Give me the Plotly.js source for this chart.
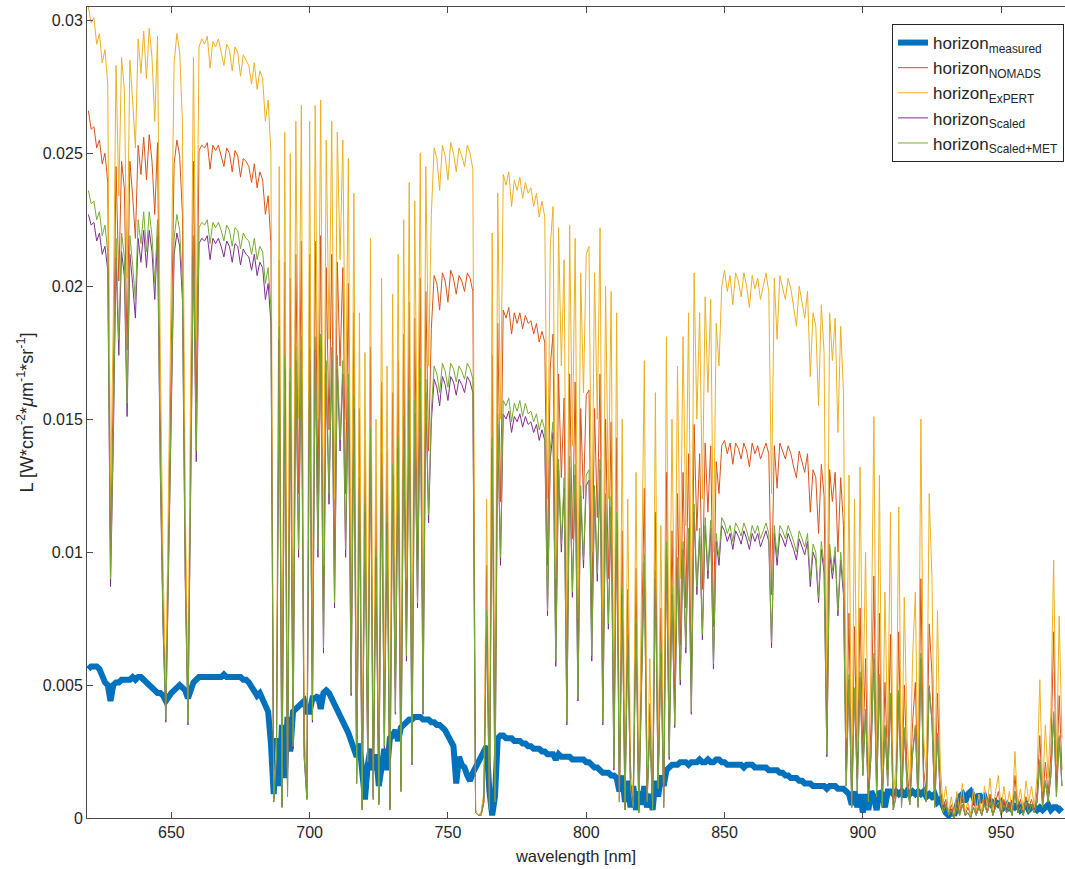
<!DOCTYPE html>
<html>
<head>
<meta charset="utf-8">
<script src="https://cdn.plot.ly/plotly-3.0.1.min.js"></script>
<style>
  html, body { margin: 0; padding: 0; background: #ffffff; }
  #chart { width: 1065px; height: 869px; }
</style>
</head>
<body>
<div id="chart"></div>
<script>
// wavelength [nm]
const wavelength = [
620,621,622,623,624,625,626,627,628,629,
630,631,632,633,634,635,636,637,638,639,
640,641,642,643,644,645,646,647,648,649,
650,651,652,653,654,655,656,657,658,659,
660,661,662,663,664,665,666,667,668,669,
670,671,672,673,674,675,676,677,678,679,
680,681,682,683,684,685,686,687,688,689,
690,691,692,693,694,695,696,697,698,699,
700,701,702,703,704,705,706,707,708,709,
710,711,712,713,714,715,716,717,718,719,
720,721,722,723,724,725,726,727,728,729,
730,731,732,733,734,735,736,737,738,739,
740,741,742,743,744,745,746,747,748,749,
750,751,752,753,754,755,756,757,758,759,
760,761,762,763,764,765,766,767,768,769,
770,771,772,773,774,775,776,777,778,779,
780,781,782,783,784,785,786,787,788,789,
790,791,792,793,794,795,796,797,798,799,
800,801,802,803,804,805,806,807,808,809,
810,811,812,813,814,815,816,817,818,819,
820,821,822,823,824,825,826,827,828,829,
830,831,832,833,834,835,836,837,838,839,
840,841,842,843,844,845,846,847,848,849,
850,851,852,853,854,855,856,857,858,859,
860,861,862,863,864,865,866,867,868,869,
870,871,872,873,874,875,876,877,878,879,
880,881,882,883,884,885,886,887,888,889,
890,891,892,893,894,895,896,897,898,899,
900,901,902,903,904,905,906,907,908,909,
910,911,912,913,914,915,916,917,918,919,
920,921,922,923,924,925,926,927,928,929,
930,931,932,933,934,935,936,937,938,939,
940,941,942,943,944,945,946,947,948,949,
950,951,952,953,954,955,956,957,958,959,
960,961,962,963,964,965,966,967,968,969,
970,971,972];

// horizon measured
const horizonMeasured = [
.0056,.0057,.0057,.0057,.0056,.0053,.0051,.0050,.0044,.0050,
.0051,.0051,.0052,.0052,.0052,.0052,.0053,.0052,.0053,.0053,
.0052,.0051,.0050,.0049,.0048,.0047,.0047,.0046,.0044,.0046,
.0047,.0048,.0049,.0050,.0049,.0048,.0045,.0049,.0051,.0052,
.0053,.0053,.0053,.0053,.0053,.0053,.0053,.0053,.0053,.0054,
.0053,.0053,.0053,.0053,.0053,.0053,.0052,.0052,.0051,.0049,
.0047,.0046,.0047,.0045,.0042,.0040,.0028,.0009,.0030,.0012,
.0035,.0015,.0038,.0025,.0040,.0041,.0042,.0043,.0044,.0040,
.0040,.0045,.0045,.0046,.0041,.0047,.0048,.0047,.0045,.0043,
.0041,.0039,.0037,.0034,.0032,.0029,.0026,.0023,.0028,.0015,
.0007,.0020,.0026,.0018,.0024,.0012,.0020,.0026,.0018,.0030,
.0031,.0033,.0029,.0034,.0035,.0036,.0037,.0037,.0038,.0038,
.0038,.0037,.0037,.0037,.0036,.0036,.0035,.0035,.0034,.0033,
.0031,.0029,.0027,.0013,.0023,.0020,.0019,.0016,.0014,.0017,
.0019,.0022,.0024,.0026,.0027,.0010,.0001,.0008,.0030,.0031,
.0031,.0030,.0030,.0030,.0029,.0029,.0029,.0028,.0028,.0027,
.0027,.0026,.0026,.0026,.0025,.0025,.0024,.0024,.0024,.0022,
.0024,.0023,.0023,.0023,.0023,.0022,.0022,.0022,.0022,.0022,
.0021,.0021,.0020,.0019,.0019,.0018,.0017,.0017,.0017,.0016,
.0016,.0015,.0010,.0016,.0006,.0014,.0004,.0012,.0003,.0010,
.0005,.0012,.0004,.0009,.0003,.0014,.0008,.0016,.0012,.0018,
.0019,.0020,.0020,.0020,.0021,.0021,.0021,.0020,.0021,.0021,
.0021,.0022,.0021,.0021,.0022,.0021,.0021,.0022,.0022,.0021,
.0021,.0020,.0020,.0020,.0020,.0020,.0020,.0019,.0020,.0020,
.0020,.0019,.0019,.0019,.0019,.0019,.0018,.0018,.0018,.0018,
.0017,.0017,.0016,.0016,.0015,.0015,.0015,.0014,.0014,.0013,
.0013,.0013,.0012,.0012,.0012,.0012,.0012,.0011,.0012,.0012,
.0012,.0011,.0011,.0011,.0010,.0009,.0005,.0010,.0004,.0009,
.0002,.0009,.0003,.0010,.0008,.0003,.0010,.0009,.0004,.0010,
.0010,.0009,.0010,.0009,.0010,.0008,.0010,.0009,.0010,.0009,
.0010,.0009,.0010,.0008,.0009,.0008,.0009,.0006,.0007,.0004,
.0002,.0001,.0003,.0001,.0004,.0008,.0009,.0006,.0009,.0010,
.0008,.0005,.0009,.0007,.0008,.0005,.0007,.0004,.0006,.0005,
.0006,.0004,.0005,.0003,.0005,.0004,.0005,.0003,.0004,.0005,
.0003,.0004,.0004,.0003,.0004,.0003,.0004,.0005,.0003,.0004,
.0004,.0003,.0004];

// horizon NOMADS
const horizonNOMADS = [
.0266,.0259,.0260,.0252,.0255,.0246,.0250,.0239,.0101,.0163,
.0245,.0202,.0247,.0237,.0176,.0247,.0234,.0218,.0253,.0242,
.0256,.0240,.0257,.0247,.0227,.0254,.0151,.0082,.0042,.0105,
.0173,.0246,.0255,.0249,.0227,.0105,.0041,.0151,.0247,.0156,
.0251,.0253,.0252,.0254,.0244,.0253,.0251,.0253,.0249,.0245,
.0252,.0250,.0243,.0251,.0249,.0241,.0248,.0247,.0245,.0239,
.0246,.0237,.0243,.0240,.0227,.0234,.0216,.0007,.0026,.0210,
.0005,.0209,.0010,.0203,.0032,.0212,.0122,.0217,.0028,.0008,
.0212,.0045,.0217,.0122,.0219,.0077,.0207,.0146,.0212,.0097,
.0209,.0170,.0207,.0122,.0201,.0057,.0190,.0016,.0154,.0004,
.0142,.0024,.0177,.0008,.0122,.0006,.0164,.0032,.0138,.0004,
.0160,.0049,.0172,.0012,.0182,.0073,.0194,.0024,.0188,.0097,
.0203,.0049,.0198,.0138,.0184,.0204,.0201,.0191,.0205,.0202,
.0194,.0206,.0203,.0197,.0204,.0202,.0198,.0205,.0203,.0198,
.0002,.0001,.0002,.0008,.0095,.0004,.0174,.0008,.0186,.0119,
.0191,.0188,.0192,.0182,.0190,.0186,.0190,.0184,.0189,.0186,
.0187,.0182,.0186,.0179,.0183,.0179,.0095,.0170,.0182,.0071,
.0167,.0128,.0158,.0045,.0167,.0105,.0164,.0056,.0154,.0120,
.0159,.0161,.0075,.0154,.0113,.0167,.0045,.0150,.0090,.0149,
.0023,.0143,.0007,.0108,.0004,.0086,.0014,.0006,.0094,.0002,
.0065,.0124,.0007,.0043,.0004,.0115,.0014,.0079,.0006,.0130,
.0029,.0108,.0043,.0122,.0065,.0130,.0079,.0137,.0050,.0148,
.0108,.0137,.0086,.0141,.0115,.0140,.0072,.0134,.0122,.0140,
.0142,.0137,.0141,.0133,.0141,.0139,.0135,.0141,.0138,.0132,
.0141,.0137,.0140,.0135,.0138,.0141,.0137,.0084,.0140,.0124,
.0141,.0138,.0135,.0140,.0137,.0132,.0128,.0138,.0134,.0130,
.0137,.0115,.0131,.0128,.0107,.0133,.0121,.0030,.0131,.0119,
.0130,.0100,.0128,.0110,.0018,.0077,.0006,.0072,.0015,.0079,
.0024,.0060,.0009,.0036,.0091,.0012,.0077,.0006,.0051,.0018,
.0069,.0005,.0012,.0070,.0006,.0050,.0018,.0007,.0036,.0051,
.0006,.0090,.0018,.0009,.0073,.0054,.0006,.0047,.0012,.0003,
.0007,.0001,.0005,.0001,.0006,.0002,.0008,.0001,.0004,.0001,
.0007,.0002,.0005,.0001,.0007,.0002,.0009,.0001,.0006,.0010,
.0002,.0007,.0002,.0006,.0001,.0016,.0003,.0007,.0002,.0008,
.0004,.0007,.0002,.0010,.0031,.0006,.0021,.0009,.0024,.0070,
.0012,.0046,.0018];

// horizon ExPERT
const horizonExPERT = [
.0305,.0299,.0301,.0291,.0295,.0284,.0289,.0276,.0117,.0188,
.0283,.0234,.0286,.0274,.0203,.0285,.0270,.0252,.0293,.0280,
.0296,.0278,.0297,.0286,.0262,.0294,.0175,.0095,.0048,.0121,
.0200,.0284,.0295,.0288,.0262,.0121,.0047,.0175,.0286,.0180,
.0290,.0293,.0291,.0294,.0282,.0292,.0290,.0293,.0288,.0283,
.0291,.0289,.0281,.0290,.0288,.0279,.0287,.0285,.0283,.0276,
.0284,.0274,.0281,.0278,.0262,.0270,.0250,.0008,.0030,.0245,
.0006,.0258,.0012,.0250,.0040,.0262,.0150,.0268,.0035,.0010,
.0262,.0055,.0268,.0150,.0270,.0095,.0255,.0180,.0262,.0120,
.0258,.0210,.0255,.0150,.0248,.0070,.0235,.0020,.0190,.0005,
.0175,.0030,.0218,.0010,.0150,.0008,.0203,.0040,.0170,.0005,
.0197,.0060,.0212,.0015,.0225,.0090,.0239,.0030,.0232,.0120,
.0250,.0060,.0245,.0170,.0227,.0252,.0248,.0236,.0253,.0249,
.0240,.0254,.0250,.0243,.0252,.0249,.0245,.0253,.0250,.0244,
.0003,.0001,.0002,.0010,.0120,.0005,.0220,.0010,.0235,.0150,
.0242,.0238,.0243,.0230,.0240,.0236,.0241,.0233,.0239,.0235,
.0237,.0230,.0235,.0226,.0232,.0226,.0120,.0215,.0230,.0090,
.0222,.0170,.0210,.0060,.0223,.0140,.0218,.0075,.0205,.0160,
.0212,.0215,.0100,.0205,.0150,.0222,.0060,.0200,.0120,.0198,
.0030,.0190,.0010,.0150,.0005,.0120,.0020,.0008,.0130,.0003,
.0090,.0172,.0010,.0060,.0005,.0160,.0020,.0110,.0008,.0181,
.0040,.0150,.0060,.0170,.0090,.0181,.0110,.0190,.0070,.0205,
.0150,.0190,.0120,.0196,.0160,.0195,.0100,.0186,.0170,.0200,
.0206,.0198,.0204,.0193,.0205,.0202,.0196,.0205,.0200,.0192,
.0204,.0199,.0203,.0195,.0200,.0205,.0198,.0122,.0203,.0180,
.0204,.0200,.0195,.0203,.0199,.0192,.0185,.0200,.0194,.0188,
.0198,.0166,.0190,.0185,.0155,.0193,.0175,.0044,.0190,.0172,
.0188,.0145,.0185,.0160,.0030,.0129,.0010,.0120,.0025,.0132,
.0040,.0100,.0015,.0060,.0151,.0020,.0129,.0010,.0085,.0030,
.0115,.0008,.0020,.0117,.0010,.0083,.0030,.0012,.0060,.0085,
.0010,.0150,.0030,.0015,.0122,.0090,.0010,.0078,.0020,.0005,
.0012,.0002,.0008,.0001,.0010,.0003,.0013,.0002,.0006,.0001,
.0011,.0003,.0009,.0002,.0012,.0004,.0015,.0002,.0010,.0016,
.0003,.0012,.0004,.0010,.0002,.0025,.0005,.0011,.0003,.0014,
.0006,.0012,.0004,.0016,.0052,.0010,.0035,.0015,.0040,.0097,
.0020,.0076,.0030];

// horizon Scaled
const horizonScaled = [
.0227,.0223,.0224,.0217,.0220,.0212,.0215,.0206,.0087,.0140,
.0211,.0174,.0213,.0204,.0151,.0212,.0201,.0188,.0218,.0209,
.0221,.0207,.0221,.0213,.0195,.0219,.0130,.0071,.0036,.0090,
.0149,.0212,.0220,.0215,.0195,.0090,.0035,.0130,.0213,.0134,
.0216,.0218,.0217,.0219,.0210,.0218,.0216,.0218,.0215,.0211,
.0217,.0215,.0209,.0216,.0215,.0208,.0214,.0212,.0211,.0206,
.0212,.0204,.0209,.0207,.0195,.0201,.0186,.0006,.0022,.0180,
.0004,.0169,.0008,.0164,.0026,.0172,.0098,.0176,.0023,.0007,
.0172,.0036,.0176,.0098,.0177,.0062,.0167,.0118,.0172,.0079,
.0169,.0138,.0167,.0098,.0162,.0046,.0154,.0013,.0124,.0003,
.0115,.0020,.0143,.0007,.0098,.0005,.0133,.0026,.0111,.0003,
.0129,.0039,.0139,.0010,.0147,.0059,.0157,.0020,.0152,.0079,
.0164,.0039,.0160,.0111,.0149,.0165,.0162,.0155,.0166,.0163,
.0157,.0166,.0164,.0159,.0165,.0163,.0160,.0166,.0164,.0160,
.0002,.0001,.0001,.0006,.0076,.0003,.0139,.0006,.0148,.0095,
.0152,.0150,.0153,.0145,.0151,.0149,.0152,.0147,.0151,.0148,
.0149,.0145,.0148,.0142,.0146,.0142,.0076,.0135,.0145,.0057,
.0131,.0100,.0124,.0035,.0132,.0083,.0129,.0044,.0121,.0094,
.0125,.0127,.0059,.0121,.0089,.0131,.0035,.0118,.0071,.0117,
.0018,.0112,.0006,.0084,.0003,.0067,.0011,.0004,.0073,.0002,
.0050,.0096,.0006,.0034,.0003,.0090,.0011,.0062,.0004,.0101,
.0022,.0084,.0034,.0095,.0050,.0101,.0062,.0106,.0039,.0115,
.0084,.0106,.0067,.0110,.0090,.0109,.0056,.0104,.0095,.0110,
.0108,.0104,.0107,.0101,.0108,.0106,.0103,.0108,.0105,.0101,
.0107,.0104,.0107,.0102,.0105,.0108,.0104,.0064,.0107,.0095,
.0107,.0105,.0102,.0107,.0104,.0101,.0097,.0105,.0102,.0099,
.0104,.0087,.0100,.0097,.0081,.0101,.0092,.0023,.0100,.0090,
.0099,.0076,.0097,.0084,.0012,.0052,.0004,.0048,.0010,.0053,
.0016,.0040,.0006,.0024,.0060,.0008,.0052,.0004,.0034,.0012,
.0046,.0003,.0008,.0047,.0004,.0033,.0012,.0005,.0024,.0034,
.0004,.0060,.0012,.0006,.0049,.0036,.0004,.0031,.0008,.0002,
.0005,.0001,.0003,.0000,.0004,.0001,.0005,.0001,.0002,.0000,
.0004,.0001,.0004,.0001,.0005,.0002,.0006,.0001,.0004,.0006,
.0001,.0005,.0002,.0004,.0001,.0010,.0002,.0004,.0001,.0006,
.0002,.0005,.0002,.0006,.0021,.0004,.0014,.0006,.0016,.0039,
.0008,.0030,.0012];

// horizon Scaled+MET
const horizonScaledMET = [
.0236,.0231,.0232,.0225,.0228,.0219,.0223,.0213,.0090,.0145,
.0218,.0180,.0220,.0211,.0156,.0219,.0208,.0195,.0225,.0216,
.0228,.0213,.0228,.0219,.0201,.0225,.0134,.0073,.0037,.0093,
.0153,.0218,.0227,.0221,.0201,.0093,.0036,.0134,.0219,.0138,
.0222,.0224,.0223,.0225,.0216,.0224,.0222,.0224,.0221,.0217,
.0223,.0221,.0215,.0222,.0221,.0214,.0220,.0218,.0217,.0212,
.0218,.0210,.0215,.0213,.0201,.0207,.0192,.0006,.0023,.0185,
.0004,.0174,.0008,.0169,.0027,.0177,.0101,.0181,.0024,.0007,
.0177,.0037,.0181,.0101,.0182,.0064,.0172,.0122,.0177,.0081,
.0174,.0142,.0172,.0101,.0167,.0047,.0159,.0013,.0128,.0003,
.0118,.0021,.0147,.0007,.0101,.0005,.0137,.0027,.0114,.0003,
.0133,.0040,.0143,.0010,.0151,.0061,.0162,.0021,.0157,.0081,
.0169,.0040,.0165,.0114,.0153,.0170,.0167,.0160,.0171,.0168,
.0162,.0171,.0169,.0164,.0170,.0168,.0165,.0171,.0169,.0165,
.0002,.0001,.0001,.0006,.0078,.0003,.0143,.0006,.0152,.0098,
.0157,.0155,.0158,.0149,.0156,.0153,.0157,.0151,.0156,.0152,
.0153,.0149,.0152,.0146,.0150,.0146,.0078,.0139,.0149,.0059,
.0135,.0103,.0128,.0036,.0136,.0085,.0133,.0045,.0125,.0097,
.0129,.0131,.0061,.0125,.0092,.0135,.0036,.0122,.0073,.0121,
.0019,.0115,.0006,.0087,.0003,.0069,.0011,.0004,.0075,.0002,
.0052,.0099,.0006,.0035,.0003,.0093,.0011,.0064,.0004,.0104,
.0023,.0087,.0035,.0098,.0052,.0104,.0064,.0109,.0040,.0118,
.0087,.0109,.0069,.0113,.0093,.0112,.0058,.0107,.0098,.0113,
.0111,.0107,.0110,.0104,.0111,.0109,.0106,.0111,.0108,.0104,
.0110,.0107,.0110,.0105,.0108,.0111,.0107,.0066,.0110,.0098,
.0110,.0108,.0105,.0110,.0107,.0104,.0100,.0108,.0105,.0102,
.0107,.0090,.0103,.0100,.0083,.0104,.0095,.0024,.0103,.0093,
.0102,.0078,.0100,.0087,.0012,.0054,.0004,.0049,.0010,.0055,
.0016,.0041,.0006,.0025,.0062,.0008,.0054,.0004,.0035,.0012,
.0047,.0003,.0008,.0048,.0004,.0034,.0012,.0005,.0025,.0035,
.0004,.0062,.0012,.0006,.0050,.0037,.0004,.0032,.0008,.0002,
.0005,.0001,.0003,.0000,.0004,.0001,.0005,.0001,.0002,.0000,
.0004,.0001,.0004,.0001,.0005,.0002,.0006,.0001,.0004,.0006,
.0001,.0005,.0002,.0004,.0001,.0010,.0002,.0004,.0001,.0006,
.0002,.0005,.0002,.0006,.0022,.0004,.0014,.0006,.0016,.0040,
.0008,.0031,.0012];

const seriesNames = [
  'horizon<sub>measured</sub>',
  'horizon<sub>NOMADS</sub>',
  'horizon<sub>ExPERT</sub>',
  'horizon<sub>Scaled</sub>',
  'horizon<sub>Scaled+MET</sub>'
];
const xTickVals = [650, 700, 750, 800, 850, 900, 950];
const xTickText = ['650', '700', '750', '800', '850', '900', '950'];
const yTickVals = [0, 0.005, 0.01, 0.015, 0.02, 0.025, 0.03];
const yTickText = ['0', '0.005', '0.01', '0.015', '0.02', '0.025', '0.03'];

const seriesValues = [horizonMeasured, horizonNOMADS, horizonExPERT, horizonScaled, horizonScaledMET];
const colors = ['#0072BD', '#D95319', '#EDB120', '#7E2F8E', '#77AC30'];
const widths = [6, 1, 1, 1, 1];

const traces = seriesValues.map((vals, i) => ({
  type: 'scatter',
  mode: 'lines',
  x: wavelength,
  y: vals,
  name: seriesNames[i],
  line: { color: colors[i], width: widths[i] },
  hoverinfo: 'skip'
}));

const axisColor = '#4a4a4a';
const font = { family: '"Liberation Sans", Arial, Helvetica, sans-serif', size: 16, color: '#262626' };

const layout = {
  width: 1065,
  height: 869,
  margin: { l: 87, r: 0, t: 7, b: 51, pad: 0 },
  paper_bgcolor: '#ffffff',
  plot_bgcolor: '#ffffff',
  font: font,
  showlegend: true,
  xaxis: {
    range: [619.5, 973.1],
    tickvals: xTickVals,
    ticktext: xTickText,
    ticks: 'inside',
    ticklen: 6,
    tickwidth: 1,
    tickcolor: axisColor,
    showline: true,
    linecolor: axisColor,
    linewidth: 1,
    mirror: 'ticks',
    showgrid: false,
    zeroline: false,
    tickfont: { size: 16, color: '#262626' },
    title: { text: 'wavelength [nm]', font: { size: 16.5, color: '#262626' }, standoff: 10 }
  },
  yaxis: {
    range: [0, 0.0305],
    tickvals: yTickVals,
    ticktext: yTickText,
    ticks: 'inside',
    ticklen: 6,
    tickwidth: 1,
    tickcolor: axisColor,
    showline: true,
    linecolor: axisColor,
    linewidth: 1,
    mirror: false,
    showgrid: false,
    zeroline: false,
    tickfont: { size: 16, color: '#262626' },
    title: { text: 'L [W*cm<sup>-2</sup>*<i>μ</i>m<sup>-1</sup>*sr<sup>-1</sup>]', font: { size: 18, color: '#262626' }, standoff: 4 }
  },
  legend: {
    x: 0.999,
    xanchor: 'right',
    y: 0.979,
    yanchor: 'top',
    bgcolor: '#ffffff',
    bordercolor: '#262626',
    borderwidth: 1,
    font: { size: 17, color: '#262626' },
    tracegroupgap: 0
  }
};

Plotly.newPlot('chart', traces, layout, { staticPlot: true, displayModeBar: false });
</script>
</body>
</html>
